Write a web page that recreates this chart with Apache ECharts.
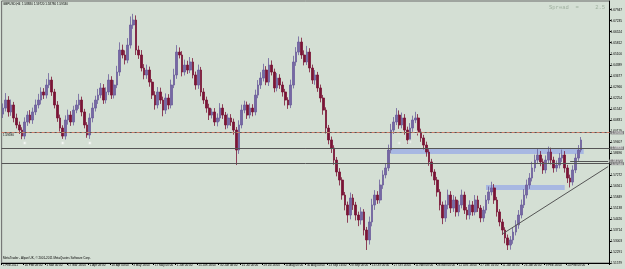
<!DOCTYPE html>
<html><head><meta charset="utf-8">
<script src="https://cdn.jsdelivr.net/npm/echarts@6/dist/echarts.min.js"></script>
<style>html,body{margin:0;padding:0;background:#d4dfd4}#c{width:625px;height:269px}</style>
</head><body><div id="c"></div>
<script>
// ---- data (GBPUSD, H4, resampled) ----
const xTickLabels = ["1 Feb 2011","16 Feb 08:00","1 Mar 00:00","17 Mar 16:00","1 Apr 08:00","18 Apr 00:00","3 May 16:00","17 May 08:00","1 Jun 00:00","15 Jun 16:00","30 Jun 08:00","15 Jul 00:00","29 Jul 16:00","15 Aug 08:00","30 Aug 00:00","13 Sep 16:00","28 Sep 08:00","13 Oct 00:00","27 Oct 16:00","11 Nov 08:00","28 Nov 00:00","12 Dec 16:00","27 Dec 16:00","11 Jan 08:00","26 Jan 00:00","9 Feb 16:00","24 Feb 08:00"];
const firstOpen = 1.6120;
const closes = [1.6159,1.6211,1.6134,1.6179,1.6095,1.6050,1.6017,1.5978,1.6069,1.6114,
1.6082,1.6134,1.6179,1.6211,1.6263,1.6243,1.6308,1.6340,1.6263,1.6179,
1.6095,1.6030,1.5978,1.6082,1.6114,1.6069,1.6146,1.6179,1.6211,1.6134,
1.6050,1.5985,1.6095,1.6159,1.6211,1.6243,1.6289,1.6211,1.6263,1.6340,
1.6243,1.6308,1.6392,1.6534,1.6502,1.6469,1.6566,1.6696,1.6728,1.6534,
1.6502,1.6418,1.6373,1.6405,1.6327,1.6243,1.6179,1.6263,1.6211,1.6146,
1.6224,1.6179,1.6308,1.6373,1.6521,1.6502,1.6392,1.6437,1.6405,1.6457,
1.6373,1.6308,1.6405,1.6263,1.6211,1.6159,1.6114,1.6134,1.6069,1.6095,
1.6159,1.6114,1.6050,1.6095,1.6069,1.6017,1.5888,1.6050,1.6146,1.6179,
1.6114,1.6159,1.6134,1.6243,1.6308,1.6353,1.6405,1.6327,1.6437,1.6392,
1.6289,1.6353,1.6308,1.6263,1.6211,1.6179,1.6308,1.6457,1.6521,1.6586,
1.6502,1.6457,1.6521,1.6418,1.6340,1.6373,1.6289,1.6224,1.6146,1.6030,
1.5953,1.5901,1.5823,1.5746,1.5694,1.5597,1.5533,1.5468,1.5578,1.5533,
1.5468,1.5436,1.5488,1.5371,1.5307,1.5423,1.5533,1.5597,1.5565,1.5662,
1.5727,1.5772,1.5888,1.6017,1.6069,1.6114,1.6050,1.6095,1.6017,1.5953,
1.6030,1.6082,1.6095,1.6004,1.5966,1.5920,1.5875,1.5811,1.5746,1.5694,
1.5617,1.5533,1.5449,1.5533,1.5597,1.5513,1.5565,1.5488,1.5533,1.5597,
1.5500,1.5468,1.5533,1.5488,1.5565,1.5513,1.5449,1.5500,1.5565,1.5617,
1.5643,1.5565,1.5488,1.5423,1.5371,1.5320,1.5274,1.5307,1.5358,1.5404,
1.5468,1.5533,1.5597,1.5662,1.5707,1.5772,1.5823,1.5856,1.5811,1.5759,
1.5823,1.5875,1.5823,1.5772,1.5791,1.5836,1.5856,1.5772,1.5707,1.5681,
1.5759,1.5836,1.5888,1.5953];
// wick lengths above / below the body, in pips
const upperWick = [30,45,25,35,20,28,22,18,30,25,
32,28,35,40,30,25,38,45,22,20,
25,22,18,30,35,25,28,32,40,22,
20,18,30,35,28,40,32,25,30,38,
25,32,40,50,35,30,45,55,40,30,
28,32,25,35,22,20,25,32,28,22,
30,25,35,40,45,30,25,35,28,32,
25,22,35,20,25,22,28,22,25,30,
32,25,20,28,25,22,20,30,35,28,
22,30,25,35,32,38,40,25,45,30,
22,32,25,22,20,18,35,40,32,36,
28,30,40,25,22,32,20,22,20,18,
20,22,18,20,25,18,20,22,35,25,
20,22,30,18,20,35,40,32,25,35,
30,28,35,40,32,45,30,35,25,22,
32,28,40,25,22,20,22,18,20,18,
20,18,22,30,35,25,32,22,28,35,
22,20,30,25,32,28,20,25,32,35,
40,25,20,18,20,18,22,25,28,30,
32,35,38,35,32,40,35,38,25,22,
30,35,28,22,30,32,35,25,20,22,
30,28,32,19];
const lowerWick = [25,22,30,25,28,22,25,20,20,25,
22,25,20,22,28,25,22,20,25,22,
25,22,18,22,30,25,22,20,25,28,
22,18,25,28,22,25,20,25,22,20,
25,22,20,25,22,28,20,22,25,32,
25,22,28,25,30,25,30,22,25,40,
25,28,22,20,25,22,28,22,25,20,
22,30,25,28,25,30,32,22,25,28,
22,25,28,22,25,30,97,25,22,20,
25,22,28,22,20,25,22,20,25,22,
28,22,25,30,35,25,20,22,25,20,
25,22,20,28,25,30,25,28,30,35,
28,32,30,28,35,30,35,50,28,32,
35,40,30,35,65,30,28,32,25,22,
25,22,20,22,25,20,25,22,30,25,
22,25,20,22,25,28,30,25,28,32,
30,35,40,25,28,32,25,30,28,22,
25,30,28,25,22,25,28,25,22,25,
22,25,30,28,32,35,32,30,25,22,
25,22,20,22,25,22,25,22,28,25,
22,25,28,30,25,22,25,30,32,35,
22,20,18,15];
const solidLevels = [1.5974, 1.5899, 1.5883, 1.5754];
const dashedLevel = 1.5959;
const partialLevel = [209, 223, 1.5817];
const zones = [[143, 214, 1.5862, 1.5895], [178, 207, 1.5630, 1.5662]];
const trendLine = [[184, 1.5345], [223, 1.5781]];
const circleMarkers = [[8, 1.5933], [22, 1.5933], [32, 1.5933]];
const pinkMarkers = [[146, 1.5933], [150, 1.5940], [152, 1.6004]];
const lastPrice = 1.5953;
const headerText = 'GBPUSD,H4  1.58880 1.59720 1.58780 1.59530';
const CAT_COUNT = 224;
const LABEL_STEP = 8;

// ---- build ----
const categories = Array.from({length: CAT_COUNT}, (_, i) => String(i));
const candles = closes.map((c, i) => {
  const o = i === 0 ? firstOpen : closes[i - 1];
  const hi = Math.max(o, c) + upperWick[i] / 10000;
  const lo = Math.min(o, c) - lowerWick[i] / 10000;
  return [o, c, lo, hi];
});
const yInterval = 0.0071164;
const yMin = 213 * yInterval;
const FONT = 'Liberation Sans';
const greyBox = v => ({show: true, position: 'end', distance: 1, formatter: v.toFixed(5),
  fontSize: 3.2, fontFamily: FONT, color: '#f0f0f0', backgroundColor: '#808080', padding: [0, 1]});

const chart = echarts.init(document.getElementById('c'), null, {renderer: 'canvas'});
chart.setOption({
  animation: false,
  backgroundColor: '#d4dfd4',
  grid: {left: 0, right: 13, top: 1, bottom: 6, show: true, borderColor: '#6a6a6a', borderWidth: 1, backgroundColor: '#d4dfd4'},
  xAxis: {
    type: 'category', data: categories, boundaryGap: true,
    axisLine: {show: true, lineStyle: {color: '#000', width: 1}},
    axisTick: {show: true, interval: LABEL_STEP - 1, length: 2, lineStyle: {color: '#000'}},
    axisLabel: {show: true, interval: LABEL_STEP - 1, align: 'left', margin: 1,
      fontSize: 3, fontFamily: FONT, color: '#000',
      formatter: (v, idx) => xTickLabels[idx / LABEL_STEP] || ''},
    splitLine: {show: false}
  },
  yAxis: {
    type: 'value', position: 'right', scale: true,
    min: yMin, max: 1.6851, interval: yInterval,
    axisLine: {show: true, lineStyle: {color: '#000', width: 1}},
    axisTick: {show: true, length: 2, lineStyle: {color: '#000'}},
    axisLabel: {show: true, margin: 1, fontSize: 3.2, fontFamily: FONT, color: '#000',
      showMaxLabel: false, formatter: v => v.toFixed(5)},
    splitLine: {show: false}
  },
  series: [
    {
      type: 'candlestick', data: candles, barWidth: 2.2,
      itemStyle: {color: '#7668a4', color0: '#7a1436', borderColor: '#6c5e9c', borderColor0: '#7a1436', borderWidth: 0.8},
      markArea: {silent: true, itemStyle: {color: 'rgba(160,178,228,0.85)'},
        data: zones.map(z => [{xAxis: String(z[0]), yAxis: z[3]}, {xAxis: String(z[1]), yAxis: z[2]}])},
      markLine: {silent: true, symbol: ['none', 'none'], animation: false,
        data: [
          ...solidLevels.map(v => ({yAxis: v, lineStyle: {color: '#555', width: 1, type: 'solid'}, label: greyBox(v)})),
          {yAxis: dashedLevel, lineStyle: {color: '#d0806c', width: 1, type: [3, 2]}, label: greyBox(dashedLevel)},
          [{xAxis: String(partialLevel[0]), yAxis: partialLevel[2], lineStyle: {color: '#555', width: 1, type: 'solid'}, label: greyBox(partialLevel[2])},
           {xAxis: String(partialLevel[1]), yAxis: partialLevel[2]}],
          [{xAxis: String(trendLine[0][0]), yAxis: trendLine[0][1], lineStyle: {color: '#555', width: 1, type: 'solid'}, label: {show: false}},
           {xAxis: String(trendLine[1][0]), yAxis: trendLine[1][1]}],
          {yAxis: lastPrice, lineStyle: {opacity: 0}, label: {show: true, position: 'end', distance: 1, formatter: lastPrice.toFixed(5),
            fontSize: 3.4, fontFamily: FONT, color: '#fff', backgroundColor: '#000', padding: [1, 1]}}
        ]}
    },
    {type: 'scatter', data: circleMarkers.map(m => [String(m[0]), m[1]]), symbol: 'emptyCircle', symbolSize: 4,
      itemStyle: {color: '#d4dfd4', borderColor: '#d06a50', borderWidth: 1}, silent: true},
    {type: 'scatter', data: pinkMarkers.map(m => [String(m[0]), m[1]]), symbol: 'emptyCircle', symbolSize: 3.5,
      itemStyle: {color: '#d4dfd4', borderColor: '#e0a0a0', borderWidth: 1}, silent: true}
  ],
  graphic: [
    {type: 'text', left: 3, top: 3, style: {text: headerText, fontSize: 3, fontFamily: FONT, fill: '#000'}},
    {type: 'text', left: 549, top: 5, style: {text: 'Spread  =     2.5', fontSize: 5.5, fontFamily: 'Liberation Mono', fill: '#9fb09f'}},
    {type: 'text', left: 3, top: 257, style: {text: 'MetaTrader - Alpari UK, © 2001-2011 MetaQuotes Software Corp.', fontSize: 3, fontFamily: FONT, fill: '#000'}},
    {type: 'text', left: 3, top: 134, style: {text: dashedLevel.toFixed(5), fontSize: 3, fontFamily: FONT, fill: '#000'}}
  ]
});
</script>
</body></html>
